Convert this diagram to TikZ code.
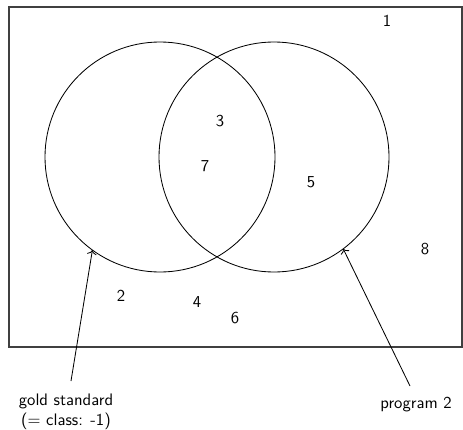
\documentclass[tikz,border=0pt]{standalone}
\usetikzlibrary{positioning, calc, arrows.meta}

\begin{document}
\begin{tikzpicture}[x=0.6pt, y=-0.6pt, >=To, font=\sffamily]
    % Frame
    \useasboundingbox (0,0) rectangle (463,429);
    \draw[line width=0.9pt, black!75] (9,7) rectangle (462,347);

    % Sets
    \tikzset{set/.style={draw, circle, inner sep=0pt, outer sep=0pt, minimum size=138pt, line width=0.5pt}}
    \node[set] (gold) at (160,157) {};
    \node[set] (prog) at (274,157) {};

    % Region counts
    \node (n1) at (387,21) {1};
    \node (n3) at (220,121) {3};
    \node (n7) at (205,166) {7};
    \node (n5) at (311,182) {5};
    \node (n8) at (425,249) {8};
    \node (n2) at (121,296) {2};
    \node (n4) at (197,302) {4};
    \node (n6) at (235,318) {6};

    % Labels
    \node[align=center] (goldlabel) at (66,412) {gold standard\\(= class: -1)};
    \node (proglabel) at (416,405) {program 2};
    \coordinate (goldfoot) at (71,381);
    \coordinate (progfoot) at (410,386);
    \draw[->, line width=0.5pt] (goldfoot) -- (gold.234);
    \draw[->, line width=0.5pt] (progfoot) -- (prog.307);
\end{tikzpicture}
\end{document}
